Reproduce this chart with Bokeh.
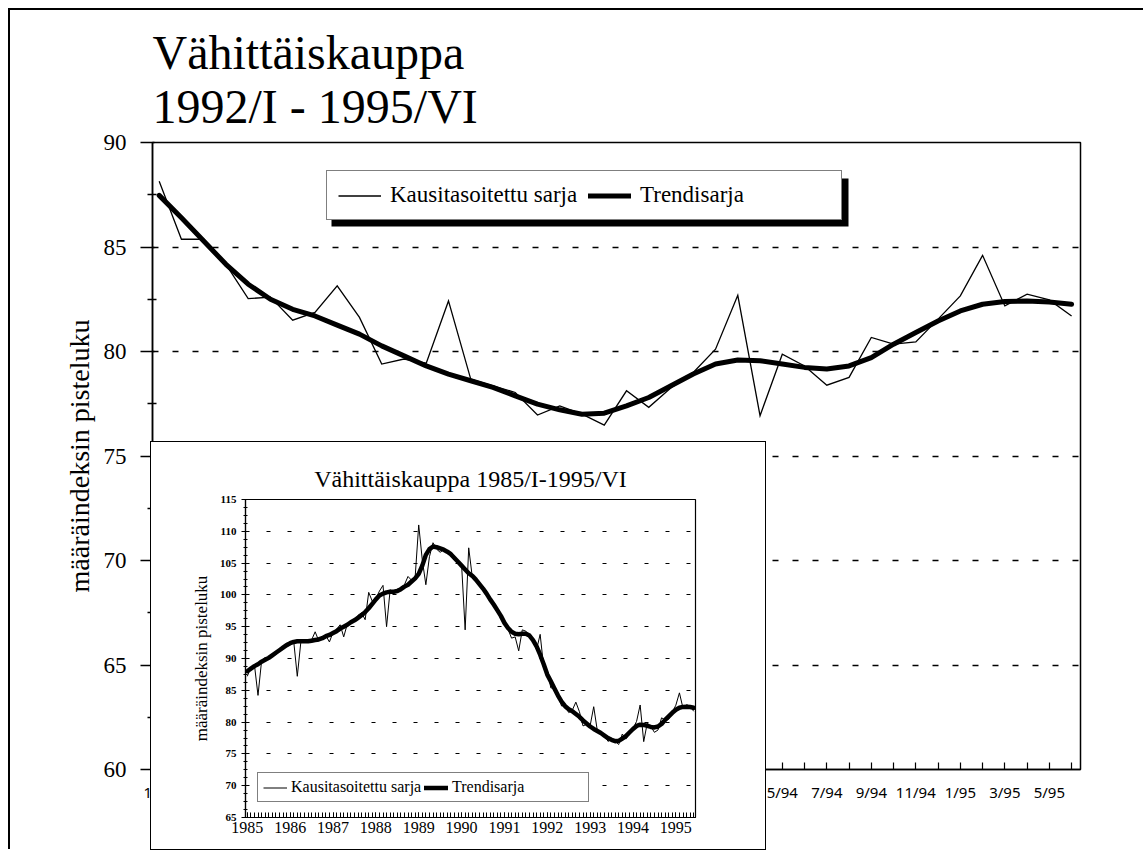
import numpy as np
from bokeh.plotting import figure
from bokeh.models import (FixedTicker, Legend, LegendItem, BoxAnnotation,
                          CustomJSTickFormatter, Range1d)
from bokeh.embed import file_html
from bokeh.resources import INLINE

# ---------------- data ----------------
# Main chart: monthly, 1/92 .. 6/95
month_labels = ["1/92", "2/92", "3/92", "4/92", "5/92", "6/92", "7/92", "8/92", "9/92", "10/92", "11/92", "12/92",
                "1/93", "2/93", "3/93", "4/93", "5/93", "6/93", "7/93", "8/93", "9/93", "10/93", "11/93", "12/93",
                "1/94", "2/94", "3/94", "4/94", "5/94", "6/94", "7/94", "8/94", "9/94", "10/94", "11/94", "12/94",
                "1/95", "2/95", "3/95", "4/95", "5/95", "6/95"]
sa_92_95 = [88.15, 85.37, 85.37, 84.17, 82.53, 82.6, 81.5, 81.87, 83.14, 81.63, 79.40, 79.64,
            79.44, 82.42, 78.68, 78.36, 78.04, 76.96, 77.4, 77.0, 76.48, 78.12, 77.33, 78.27,
            79.0, 80.11, 82.69, 76.93, 79.87, 79.31, 78.39, 78.76, 80.67, 80.35, 80.46, 81.55,
            82.66, 84.6, 82.18, 82.74, 82.47, 81.7]
trend_92_95 = [87.47, 86.4, 85.29, 84.17, 83.22, 82.5, 82.02, 81.7, 81.26, 80.83, 80.27, 79.79,
               79.31, 78.92, 78.6, 78.28, 77.88, 77.48, 77.21, 77.0, 77.05, 77.4, 77.8, 78.36,
               78.92, 79.4, 79.59, 79.56, 79.4, 79.24, 79.16, 79.31, 79.71, 80.35, 80.91, 81.46,
               81.94, 82.26, 82.39, 82.42, 82.37, 82.26]

# Inset chart: monthly 1985/I .. 1991/XII (then continues with the 1992-1995 data above)
year_labels = ["1985", "1986", "1987", "1988", "1989", "1990", "1991", "1992", "1993", "1994", "1995"]
sa_85_91 = [87.2, 88.6, 89.0, 84.2, 89.6, 90.2, 89.8, 90.7, 90.6, 91.4, 91.9, 92.4,
            92.5, 92.7, 87.2, 92.6, 92.8, 92.5, 92.9, 94.2, 92.8, 93.3, 93.6, 92.6,
            94.1, 94.6, 95.3, 93.4, 95.4, 95.8, 95.9, 96.8, 97.2, 96.1, 100.4, 99.0,
            99.4, 100.6, 101.5, 95.0, 100.8, 100.3, 100.9, 101.1, 101.6, 102.9, 102.3, 102.8,
            111.0, 105.5, 101.6, 106.0, 108.2, 107.2, 106.7, 107.1, 106.6, 106.3, 105.7, 105.5,
            104.8, 94.5, 107.4, 102.8, 102.6, 101.5, 101.2, 100.3, 99.5, 98.2, 97.8, 96.9,
            95.6, 94.6, 93.2, 93.4, 91.2, 94.5, 94.3, 93.6, 92.8, 91.4, 93.8, 88.6]
trend_85_91 = [88.0, 88.4, 88.8, 89.1, 89.5, 89.8, 90.1, 90.5, 90.9, 91.3, 91.7, 92.1,
               92.4, 92.6, 92.7, 92.7, 92.7, 92.7, 92.8, 92.9, 93.0, 93.2, 93.5, 93.7,
               94.0, 94.3, 94.7, 95.0, 95.3, 95.7, 96.0, 96.4, 96.8, 97.3, 97.9, 98.6,
               99.3, 99.9, 100.2, 100.4, 100.5, 100.5, 100.6, 100.9, 101.3, 101.6, 102.1, 102.6,
               103.3, 104.6, 106.3, 107.2, 107.6, 107.5, 107.3, 107.1, 106.8, 106.4, 105.8, 105.2,
               104.6, 104.0, 103.4, 103.0, 102.4, 101.7, 101.0, 100.2, 99.3, 98.5, 97.6, 96.7,
               95.6, 94.8, 94.2, 93.9, 93.8, 93.9, 93.9, 93.6, 92.9, 91.9, 90.6, 89.1]

legend_labels = ["Kausitasoitettu sarja", "Trendisarja"]
main_title = "Vähittäiskauppa\n1992/I - 1995/VI"
inset_title = "Vähittäiskauppa 1985/I-1995/VI"
y_title = "määräindeksin pisteluku"

SERIF = "Liberation Serif"
SANS = "Noto Sans"

# ---------------- main figure ----------------
X0, X1 = -0.3, 41.4
Y0, Y1 = 60, 90
p = figure(width=1135, height=841, x_range=Range1d(X0, X1), y_range=Range1d(Y0, Y1),
           output_backend="svg", toolbar_location=None,
           min_border_left=142, min_border_right=65, min_border_top=132, min_border_bottom=82)
p.margin = (10, 0, 0, 10)
p.styles = {"box-shadow": "-2px -2px 0 0 black"}
p.background_fill_color = "white"
p.border_fill_color = "white"
p.outline_line_color = "black"
p.outline_line_width = 1.5

p.title.text = main_title
p.title.text_font = SERIF
p.title.text_font_size = "48px"
p.title.text_font_style = "normal"
p.title.text_color = "black"
p.title.text_line_height = 1.03
p.title.align = "left"
p.title.standoff = 18

xs = list(range(len(sa_92_95)))
r_tr = p.line(xs, trend_92_95, line_width=5, color="black", line_join="round", line_cap="round")
r_sa = p.line(xs, sa_92_95, line_width=1.3, color="black", line_join="miter")

ya = p.yaxis[0]
ya.ticker = FixedTicker(ticks=[60, 65, 70, 75, 80, 85, 90],
                        minor_ticks=[62.5, 67.5, 72.5, 77.5, 82.5, 87.5])
ya.major_label_text_font = SERIF
ya.major_label_text_font_size = "23px"
ya.major_label_text_color = "black"
ya.major_tick_out = 12
ya.major_tick_in = 2
ya.minor_tick_out = 5
ya.minor_tick_in = 4
ya.major_label_standoff = 14
ya.axis_line_width = 1.5
ya.axis_line_color = "black"
ya.major_tick_line_width = 1.5
ya.minor_tick_line_width = 1.3
ya.axis_label = y_title
ya.axis_label_text_font = SERIF
ya.axis_label_text_font_size = "28px"
ya.axis_label_text_font_style = "normal"
ya.axis_label_text_color = "black"
ya.axis_label_standoff = 6

xa = p.xaxis[0]
xa.ticker = FixedTicker(ticks=list(range(0, 42, 2)), minor_ticks=list(range(1, 42, 2)))
xa.formatter = CustomJSTickFormatter(args={"labels": month_labels},
                                     code="const i = Math.round(tick); return (i >= 0 && i < labels.length) ? labels[i] : '';")
xa.major_label_text_font = SANS
xa.major_label_text_font_size = "15px"
xa.major_label_text_color = "black"
xa.major_tick_in = 7
xa.major_tick_out = 0
xa.minor_tick_in = 7
xa.minor_tick_out = 0
xa.major_label_standoff = 12
xa.axis_line_width = 1.5
xa.axis_line_color = "black"
xa.major_tick_line_width = 1.2
xa.minor_tick_line_width = 1.2

p.xgrid.visible = False
p.ygrid.ticker = FixedTicker(ticks=[65, 70, 75, 80, 85])
p.ygrid.grid_line_color = "black"
p.ygrid.grid_line_width = 1.4
p.ygrid.grid_line_dash = "6 14"


def px2x(px):
    return X0 + (px - 152) * (X1 - X0) / (1080 - 152)


def py2y(py):
    return Y1 - (py - 142) * (Y1 - Y0) / (769 - 142)


shadow = BoxAnnotation(left=px2x(331), right=px2x(848), top=py2y(178), bottom=py2y(226),
                       fill_color="black", fill_alpha=1.0, line_color=None)
p.add_layout(shadow)

leg = Legend(items=[LegendItem(label=legend_labels[0], renderers=[r_sa]),
                    LegendItem(label=legend_labels[1], renderers=[r_tr])],
             orientation="horizontal", location=(174, 549))
leg.margin = 0
leg.padding = 11
leg.spacing = 8
leg.glyph_width = 43
leg.glyph_height = 25
leg.label_standoff = 9
leg.label_width = 190
leg.label_height = 25
leg.label_text_font = SERIF
leg.label_text_font_size = "23px"
leg.label_text_color = "black"
leg.border_line_color = "black"
leg.border_line_width = 1.5
leg.background_fill_color = "white"
leg.background_fill_alpha = 1.0
p.add_layout(leg)

# ---------------- inset figure ----------------
sa_all = sa_85_91 + sa_92_95
trend_all = trend_85_91 + trend_92_95
ms = list(range(len(sa_all)))

q = figure(width=614, height=407, x_range=Range1d(-0.5, 125.5), y_range=Range1d(65, 115),
           output_backend="svg", toolbar_location=None,
           min_border_left=94, min_border_right=70, min_border_top=57, min_border_bottom=32)
q.styles = {"position": "absolute", "left": "151px", "top": "442px", "z-index": "10",
            "outline": "1.5px solid black", "background": "white"}
q.background_fill_color = "white"
q.border_fill_color = "white"
q.outline_line_color = "black"
q.outline_line_width = 1.2

q.title.text = inset_title
q.title.text_font = SERIF
q.title.text_font_size = "24px"
q.title.text_font_style = "normal"
q.title.text_color = "black"
q.title.align = "center"
q.title.standoff = 15

q_tr = q.line(ms, trend_all, line_width=4.5, color="black", line_join="round", line_cap="round")
q_sa = q.line(ms, sa_all, line_width=1.0, color="black")

qy = q.yaxis[0]
qy.ticker = FixedTicker(ticks=list(range(65, 116, 5)),
                        minor_ticks=[float(v) for v in np.arange(65, 115.01, 1.25)])
qy.major_label_text_font = SERIF
qy.major_label_text_font_size = "11px"
qy.major_label_text_font_style = "bold"
qy.major_label_text_color = "black"
qy.major_tick_out = 4
qy.major_tick_in = 3
qy.minor_tick_out = 2
qy.minor_tick_in = 2
qy.major_label_standoff = 5
qy.axis_line_width = 1.2
qy.axis_line_color = "black"
qy.axis_label = y_title
qy.axis_label_text_font = SERIF
qy.axis_label_text_font_size = "17px"
qy.axis_label_text_font_style = "normal"
qy.axis_label_text_color = "black"
qy.axis_label_standoff = 6

qx = q.xaxis[0]
qx.ticker = FixedTicker(ticks=list(range(0, 126, 12)), minor_ticks=list(range(0, 126)))
qx.formatter = CustomJSTickFormatter(args={"years": year_labels},
                                     code="const i = Math.round(tick / 12); return (i >= 0 && i < years.length) ? years[i] : '';")
qx.major_label_text_font = SERIF
qx.major_label_text_font_size = "16px"
qx.major_label_text_color = "black"
qx.major_tick_in = 5
qx.major_tick_out = 0
qx.minor_tick_in = 5
qx.minor_tick_out = 0
qx.major_label_standoff = 4
qx.axis_line_width = 1.2
qx.axis_line_color = "black"

q.xgrid.visible = False
q.ygrid.ticker = FixedTicker(ticks=[70, 75, 80, 85, 90, 95, 100, 105, 110])
q.ygrid.grid_line_color = "black"
q.ygrid.grid_line_width = 1.2
q.ygrid.grid_line_dash = "4 17"

qleg = Legend(items=[LegendItem(label=legend_labels[0], renderers=[q_sa]),
                     LegendItem(label=legend_labels[1], renderers=[q_tr])],
              orientation="horizontal", location=(12, 15))
qleg.margin = 0
qleg.padding = 5
qleg.spacing = 2
qleg.glyph_width = 24
qleg.glyph_height = 17
qleg.label_standoff = 4
qleg.label_width = 131
qleg.label_height = 17
qleg.label_text_font = SERIF
qleg.label_text_font_size = "16px"
qleg.label_text_color = "black"
qleg.border_line_color = "black"
qleg.border_line_width = 1.2
qleg.background_fill_color = "white"
qleg.background_fill_alpha = 1.0
q.add_layout(qleg)

open("out.html", "w").write(file_html([p, q], INLINE, title="Vähittäiskauppa"))
